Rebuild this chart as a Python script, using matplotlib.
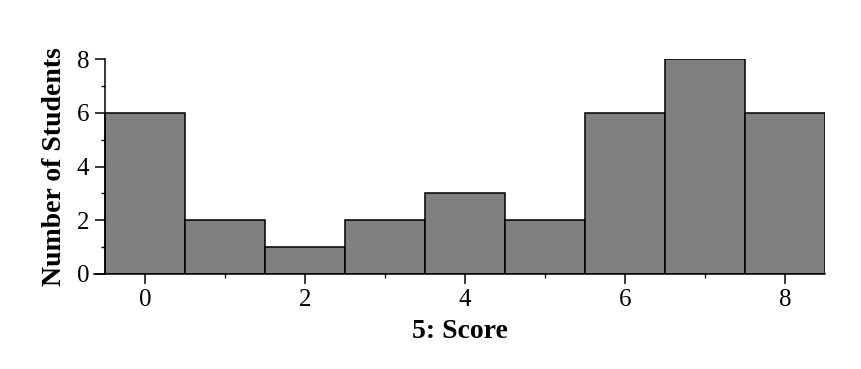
import matplotlib.pyplot as plt
from matplotlib.ticker import MultipleLocator

plt.rcParams['font.family'] = ['Liberation Serif', 'DejaVu Serif']

# score histogram
scores = [0, 1, 2, 3, 4, 5, 6, 7, 8]
counts = [6, 2, 1, 2, 3, 2, 6, 8, 6]

fig = plt.figure(figsize=(8.62, 3.69), dpi=100)
ax = fig.add_axes([0.109, 0.2575, 0.848, 0.5825])

ax.bar(scores, counts, width=1.0, color="#808080", edgecolor="black", linewidth=1.1)

ax.set_xlim(-0.64, 8.5)
ax.set_ylim(0, 8)
ax.spines['top'].set_visible(False)
ax.spines['right'].set_visible(False)
ax.spines['left'].set_position(('data', -0.5))
ax.spines['left'].set_bounds(0, 8)
ax.spines['left'].set_linewidth(1.1)
ax.spines['bottom'].set_linewidth(1.1)

ax.xaxis.set_major_locator(MultipleLocator(2))
ax.xaxis.set_minor_locator(MultipleLocator(1))
ax.yaxis.set_major_locator(MultipleLocator(2))
ax.yaxis.set_minor_locator(MultipleLocator(1))
ax.tick_params(which='major', length=7.5, width=1.1, labelsize=18)
ax.tick_params(which='minor', length=3, width=1.0)
ax.tick_params(axis='x', pad=3)
ax.tick_params(axis='y', pad=4)

ax.set_xlabel("5: Score", fontsize=20, fontweight='bold', labelpad=6)
ax.set_ylabel("Number of Students", fontsize=20, fontweight='bold', labelpad=7)

fig.savefig("out.png", dpi=100)
